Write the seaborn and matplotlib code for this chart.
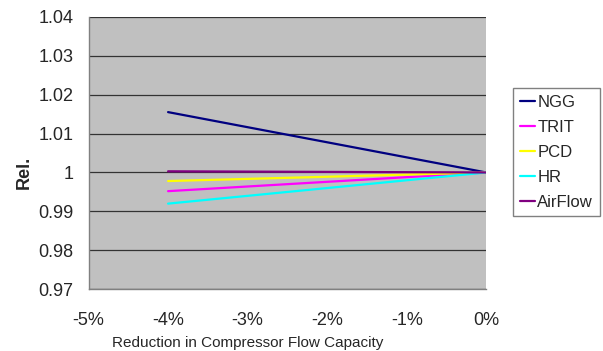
import matplotlib
matplotlib.use("Agg")
import matplotlib.pyplot as plt
from matplotlib.ticker import FuncFormatter
import seaborn as sns
import pandas as pd

# Relative values vs. reduction in compressor flow capacity
flow_reduction = [-0.04, 0.0]
ngg = [1.0155, 1.0]
trit = [0.9952, 1.0]
pcd = [0.9978, 1.0]
hr = [0.9920, 1.0]
airflow = [1.0003, 1.0]

series_names = ["NGG", "TRIT", "PCD", "HR", "AirFlow"]
series_values = [ngg, trit, pcd, hr, airflow]
series_colors = ["#000080", "#FF00FF", "#FFFF00", "#00FFFF", "#800080"]

y_ticks = [0.97, 0.98, 0.99, 1.0, 1.01, 1.02, 1.03, 1.04]
x_ticks = [-0.05, -0.04, -0.03, -0.02, -0.01, 0.0]

rows = []
for name, vals in zip(series_names, series_values):
    for x, v in zip(flow_reduction, vals):
        rows.append({"x": x, "value": v, "series": name})
df = pd.DataFrame(rows)

sns.set_style("white")
plt.rcParams["font.family"] = ["Liberation Sans", "DejaVu Sans"]

fig = plt.figure(figsize=(6.03, 3.51), dpi=100)
ax = fig.add_axes([0.1468, 0.1758, 0.8065 - 0.1468, 0.9524 - 0.1758])
ax.set_facecolor("#C0C0C0")

sns.lineplot(data=df, x="x", y="value", hue="series", hue_order=series_names,
             palette=dict(zip(series_names, series_colors)), linewidth=1.6,
             ax=ax, legend=True, zorder=3)

ax.set_xlim(-0.05, 0.0)
ax.set_ylim(0.97, 1.04)
ax.set_xticks(x_ticks)
ax.set_yticks(y_ticks)
ax.xaxis.set_major_formatter(FuncFormatter(lambda v, p: f"{v*100:.0f}%"))
ax.yaxis.set_major_formatter(FuncFormatter(lambda v, p: f"{v:g}"))

ax.yaxis.grid(True, color="#333333", linewidth=0.9, zorder=1)
ax.xaxis.grid(False)
ax.set_axisbelow(True)

for s in ["top", "right"]:
    ax.spines[s].set_visible(False)
for s in ["left", "bottom"]:
    ax.spines[s].set_color("#808080")
    ax.spines[s].set_linewidth(1.0)

ax.tick_params(axis="both", which="major", direction="out", length=5,
               width=1.0, color="#808080", labelsize=13)
ax.tick_params(axis="y", pad=6)
ax.tick_params(axis="x", pad=11)

ax.set_xlabel("")
ax.set_ylabel("")
fig.text(248 / 603, 1 - 343 / 351, "Reduction in Compressor Flow Capacity",
         fontsize=11, ha="center", va="center")
fig.text(24 / 603, 1 - 172 / 351, "Rel.", fontsize=13, fontweight="bold",
         rotation=90, ha="center", va="center")

handles, labels = ax.get_legend_handles_labels()
ax.legend(handles, labels, loc="upper left",
          bbox_to_anchor=(513 / 603, 1 - 88 / 351), bbox_transform=fig.transFigure,
          frameon=True, fancybox=False, edgecolor="#808080", facecolor="white",
          framealpha=1, fontsize=12, handlelength=0.9, handletextpad=0.15,
          labelspacing=0.6, borderpad=0.4, borderaxespad=0)
ax.get_legend().get_frame().set_linewidth(1.0)

fig.savefig("out.png", dpi=100, facecolor="white")
